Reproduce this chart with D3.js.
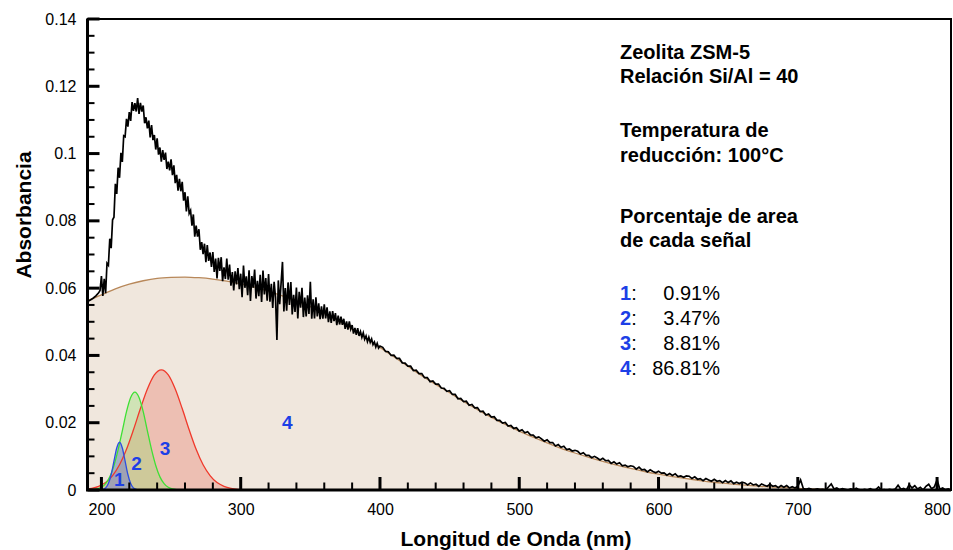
<!DOCTYPE html>
<html><head><meta charset="utf-8">
<script src="https://cdn.jsdelivr.net/npm/d3@7"></script>
<style>
html,body{margin:0;padding:0;background:#fff;}
svg{display:block;font-family:"Liberation Sans",Arial,Helvetica,sans-serif;}
</style></head><body>
<svg id="chart" width="953" height="550"></svg>
<script>
// ---------------- DATA ----------------
// Measured UV-Vis spectrum (wavelength nm -> absorbance)
const spectrumNm = [190,192,194,196,198,199].concat(d3.range(200, 401, 1), d3.range(402, 811, 2));
const spectrumAbs = [
0.0560,0.0565,0.0570,0.0577,0.0586,0.0593,
0.0636,0.0577,0.0628,0.0585,0.0674,0.0668,0.0747,0.0719,0.0803,0.0811,
0.0910,0.0880,0.0958,0.0928,0.1002,0.0975,0.1053,0.1050,0.1103,0.1080,
0.1123,0.1097,0.1153,0.1127,0.1150,0.1125,0.1165,0.1118,0.1151,0.1125,
0.1143,0.1090,0.1108,0.1075,0.1098,0.1048,0.1085,0.1040,0.1055,0.1012,
0.1045,0.0997,0.1018,0.0976,0.1010,0.0981,0.1003,0.0954,0.0976,0.0950,
0.0983,0.0936,0.0965,0.0912,0.0937,0.0890,0.0925,0.0888,0.0916,0.0860,
0.0885,0.0828,0.0873,0.0822,0.0831,0.0786,0.0819,0.0753,0.0786,0.0753,
0.0775,0.0714,0.0737,0.0701,0.0732,0.0677,0.0728,0.0681,0.0706,0.0663,
0.0707,0.0648,0.0688,0.0629,0.0690,0.0651,0.0692,0.0621,0.0662,0.0627,
0.0688,0.0625,0.0670,0.0607,0.0648,0.0593,0.0650,0.0611,0.0660,0.0597,
0.0643,0.0573,0.0667,0.0601,0.0635,0.0579,0.0653,0.0562,0.0636,0.0601,
0.0655,0.0569,0.0622,0.0576,0.0640,0.0559,0.0652,0.0581,0.0630,0.0563,
0.0642,0.0560,0.0613,0.0541,0.0619,0.0572,0.0446,0.0623,0.0552,0.0615,
0.0678,0.0531,0.0600,0.0533,0.0617,0.0550,0.0618,0.0522,0.0580,0.0529,
0.0602,0.0510,0.0589,0.0542,0.0601,0.0514,0.0572,0.0516,0.0579,0.0523,
0.0619,0.0509,0.0567,0.0510,0.0573,0.0516,0.0555,0.0508,0.0546,0.0509,
0.0552,0.0510,0.0543,0.0499,0.0531,0.0497,0.0532,0.0502,0.0526,0.0490,
0.0518,0.0492,0.0515,0.0491,0.0509,0.0479,0.0501,0.0477,0.0501,0.0478,
0.0490,0.0465,0.0482,0.0461,0.0481,0.0458,0.0471,0.0454,0.0467,0.0448,
0.0458,0.0441,0.0454,0.0439,0.0449,0.0432,0.0440,0.0425,0.0436,0.0422,
0.0428,
0.0424,0.0412,0.0411,0.0400,0.0401,0.0391,0.0391,0.0378,0.0377,0.0368,
0.0368,0.0355,0.0356,0.0346,0.0346,0.0334,0.0334,0.0322,0.0324,0.0315,
0.0315,0.0303,0.0302,0.0293,0.0295,0.0284,0.0284,0.0271,0.0272,0.0263,
0.0264,0.0252,0.0254,0.0244,0.0245,0.0233,0.0234,0.0223,0.0226,0.0217,
0.0218,0.0207,0.0207,0.0199,0.0201,0.0190,0.0192,0.0183,0.0185,0.0175,
0.0179,0.0170,0.0173,0.0164,0.0163,0.0155,0.0158,0.0152,0.0145,0.0149,
0.0141,0.0141,0.0131,0.0135,0.0127,0.0130,0.0120,0.0122,0.0116,0.0118,
0.0115,0.0107,0.0111,0.0103,0.0103,0.0096,0.0100,0.0095,0.0089,0.0094,
0.0087,0.0088,0.0079,0.0084,0.0077,0.0081,0.0072,0.0074,0.0069,0.0072,
0.0070,0.0062,0.0068,0.0060,0.0061,0.0054,0.0060,0.0055,0.0051,0.0056,
0.0050,0.0051,0.0044,0.0049,0.0043,0.0048,0.0040,0.0042,0.0038,0.0042,
0.0041,0.0034,0.0039,0.0032,0.0034,0.0028,0.0034,0.0030,0.0026,0.0032,
0.0026,0.0028,0.0022,0.0028,0.0022,0.0027,0.0019,0.0023,0.0019,0.0023,
0.0021,0.0015,0.0021,0.0015,0.0017,0.0011,0.0018,0.0014,0.0011,0.0017,
0.0011,0.0013,0.0007,0.0013,0.0008,0.0013,0.0006,0.0010,0.0006,0.0011,
0.0030,0.0004,0.0002,0.0005,0.0002,0.0001,0.0003,0.0001,0.0002,0.0000,
0.0009,0.0018,0.0003,0.0006,0.0001,0.0004,0.0002,0.0000,0.0003,0.0001,
0.0005,0.0001,0.0000,0.0002,0.0000,0.0004,0.0000,0.0001,0.0009,0.0000,
0.0001,0.0000,0.0002,0.0000,0.0003,0.0014,0.0002,0.0005,0.0000,0.0016,
0.0006,0.0013,0.0003,0.0008,0.0000,0.0011,0.0017,0.0004,0.0009,0.0030,
0.0002,0.0006,0.0001,0.0003,0.0000
];

// Fitted band 1 (blue)
const band1Nm  = [199,201,203,205,207,209,211,213,215,217,219,221,223,225,227];
const band1Abs = [0.0000,0.0002,0.0006,0.0019,0.0046,0.0086,0.0125,0.0142,0.0125,0.0086,0.0046,0.0019,0.0006,0.0002,0.0000];
// Fitted band 2 (green)
const band2Nm  = [194,197,200,203,206,209,212,215,218,221,224,227,230,233,236,239,242,245,248,251,254];
const band2Abs = [0.0001,0.0003,0.0008,0.0019,0.0039,0.0073,0.0120,0.0176,0.0233,0.0275,0.0291,0.0275,0.0233,0.0176,0.0120,0.0073,0.0039,0.0019,0.0008,0.0003,0.0001];
// Fitted band 3 (red)
const band3Nm  = [188,193,198,203,208,213,218,223,228,233,238,243,248,253,258,263,268,273,278,283,288,293,298,303];
const band3Abs = [0.0003,0.0005,0.0011,0.0022,0.0043,0.0075,0.0121,0.0179,0.0242,0.0300,0.0342,0.0357,0.0342,0.0300,0.0242,0.0179,0.0121,0.0075,0.0043,0.0022,0.0011,0.0005,0.0002,0.0001];
// Fitted band 4 (brown, broad)
const band4Nm  = d3.range(190, 811, 10);
const band4Abs = [0.0563,0.0580,0.0598,0.0612,0.0622,0.0629,0.0632,0.0633,0.0631,0.0627,
0.0621,0.0613,0.0603,0.0591,0.0577,0.0562,0.0545,0.0525,0.0503,0.0478,
0.0452,0.0424,0.0396,0.0368,0.0340,0.0314,0.0289,0.0263,0.0239,0.0216,
0.0195,0.0175,0.0157,0.0140,0.0124,0.0110,0.0097,0.0085,0.0074,0.0064,
0.0055,0.0047,0.0040,0.0034,0.0028,0.0023,0.0019,0.0015,0.0012,0.0009,
0.0007,0.0005,0.0003,0.0002,0.0001,0.0001,0,0,0,0,0,0,0];

// Band label anchors (wavelength, absorbance)
const bandLabels = ["1","2","3","4"];
const bandLabelNm = [212.9, 225.3, 245.7, 333.5];
const bandLabelAbs = [0.0032, 0.0079, 0.0124, 0.0203];

// Info text
const infoLines = ["Zeolita ZSM-5","Relación Si/Al = 40","Temperatura de","reducción: 100°C","Porcentaje de area","de cada señal"];
const areaKeys = ["1","2","3","4"];
const areaPercent = ["0.91%","3.47%","8.81%","86.81%"];

// Axes
const xTickValues = [200,300,400,500,600,700,800];
const xTickLabels = ["200","300","400","500","600","700","800"];
const xMinorValues = [220,240,260,280,320,340,360,380,420,440,460,480,520,540,560,580,620,640,660,680,720,740,760,780];
const yTickValues = [0,0.02,0.04,0.06,0.08,0.1,0.12,0.14];
const yTickLabels = ["0","0.02","0.04","0.06","0.08","0.1","0.12","0.14"];
const yMinorValues = [0.005,0.01,0.015,0.025,0.03,0.035,0.045,0.05,0.055,0.065,0.07,0.075,0.085,0.09,0.095,0.105,0.11,0.115,0.125,0.13,0.135];
const xTitle = "Longitud de Onda (nm)";
const yTitle = "Absorbancia";

// ---------------- DRAW ----------------
const svg = d3.select("#chart");
const L = 87.5, R = 951, T = 19, B = 490;
const x = d3.scaleLinear().domain([190, 810]).range([L, R]);
const y = d3.scaleLinear().domain([0, 0.14]).range([B, T]);

svg.append("defs").append("clipPath").attr("id","plotclip")
  .append("rect").attr("x",L).attr("y",T).attr("width",R-L).attr("height",B-T);

const plot = svg.append("g").attr("clip-path","url(#plotclip)");

const zip = (a,b) => a.map((v,i)=>[v,b[i]]);
const area = d3.area().x(d=>x(d[0])).y0(y(0)).y1(d=>y(d[1])).curve(d3.curveMonotoneX);
const line = d3.line().x(d=>x(d[0])).y(d=>y(d[1])).curve(d3.curveMonotoneX);

const bands = [
  {nm: band4Nm, abs: band4Abs, fill: "#f0e7dd", stroke: "#b8885a"},
  {nm: band3Nm, abs: band3Abs, fill: "rgba(232,110,95,0.33)", stroke: "#f0392b"},
  {nm: band2Nm, abs: band2Abs, fill: "rgba(150,222,110,0.35)", stroke: "#3ee034"},
  {nm: band1Nm, abs: band1Abs, fill: "rgba(86,100,220,0.38)", stroke: "#2c4ee0"}
];
bands.forEach(b => {
  plot.append("path").datum(zip(b.nm,b.abs)).attr("d", area).attr("fill", b.fill).attr("stroke","none");
});
bands.forEach(b => {
  plot.append("path").datum(zip(b.nm,b.abs)).attr("d", line).attr("fill","none")
    .attr("stroke", b.stroke).attr("stroke-width", 1.3);
});

plot.append("path").datum(zip(spectrumNm, spectrumAbs))
  .attr("d", d3.line().x(d=>x(d[0])).y(d=>y(d[1])))
  .attr("fill","none").attr("stroke","#000").attr("stroke-width",1.7).attr("stroke-linejoin","miter");

// band labels
svg.append("g").selectAll("text").data(bandLabels).join("text")
  .attr("x",(d,i)=>x(bandLabelNm[i])).attr("y",(d,i)=>y(bandLabelAbs[i]))
  .attr("dy","0.36em").attr("text-anchor","middle")
  .attr("font-size",19).attr("font-weight","bold").attr("fill","#1d3fe6").text(d=>d);

// axes: labels through d3 axes
const fontSize = 16;
const xAxis = svg.append("g").attr("transform",`translate(0,${B})`)
  .call(d3.axisBottom(x).tickValues(xTickValues).tickFormat((d,i)=>xTickLabels[i]).tickSize(0).tickPadding(14));
const yAxis = svg.append("g").attr("transform",`translate(${L},0)`)
  .call(d3.axisLeft(y).tickValues(yTickValues).tickFormat((d,i)=>yTickLabels[i]).tickSize(0).tickPadding(11));
[xAxis,yAxis].forEach(g=>{
  g.select(".domain").remove();
  g.selectAll(".tick text").attr("font-size",fontSize).attr("fill","#000")
    .attr("font-family",'"Liberation Sans",Arial,Helvetica,sans-serif');
});

// frame
svg.append("rect").attr("x",L).attr("y",T).attr("width",R-L).attr("height",B-T)
  .attr("fill","none").attr("stroke","#000").attr("stroke-width",2);
svg.append("path").attr("d",`M${L},${T}V${B}H${R}`).attr("fill","none").attr("stroke","#000").attr("stroke-width",3);

// axis titles
svg.append("text").attr("x",516).attr("y",546).attr("text-anchor","middle")
  .attr("font-size",21).attr("font-weight","bold").text(xTitle);
svg.append("text").attr("transform","translate(31,215) rotate(-90)").attr("text-anchor","middle")
  .attr("font-size",21).attr("font-weight","bold").text(yTitle);

// info block
const infoY = [59, 82.5, 137, 161.5, 223, 247];
svg.append("g").selectAll("text").data(infoLines).join("text")
  .attr("x",620).attr("y",(d,i)=>infoY[i]).attr("font-size",20).attr("font-weight","bold").text(d=>d);

const listY = [299.5, 325, 350, 375];
const list = svg.append("g");
areaKeys.forEach((k,i)=>{
  const t = list.append("text").attr("x",620).attr("y",listY[i]).attr("font-size",20);
  t.append("tspan").attr("font-weight","bold").attr("fill","#1d3fe6").text(k);
  t.append("tspan").attr("fill","#000").text(":");
  list.append("text").attr("x",720).attr("y",listY[i]).attr("text-anchor","end")
    .attr("font-size",20).attr("fill","#000").text(areaPercent[i]);
});

// inward tick marks, drawn last so nothing can cover them
const tickLayer = svg.append("g").attr("class","ticks");
tickLayer.selectAll("rect.xmaj").data(xTickValues).join("rect").attr("class","xmaj")
  .attr("x",d=>x(d)-1.5).attr("y",B-13).attr("width",3).attr("height",13).attr("fill","#000");
tickLayer.selectAll("rect.xmin").data(xMinorValues).join("rect").attr("class","xmin")
  .attr("x",d=>x(d)-1).attr("y",B-7.5).attr("width",2).attr("height",7.5).attr("fill","#000");
tickLayer.selectAll("rect.ymaj").data(yTickValues).join("rect").attr("class","ymaj")
  .attr("x",L).attr("y",d=>y(d)-1.5).attr("width",12).attr("height",3).attr("fill","#000");
tickLayer.selectAll("rect.ymin").data(yMinorValues).join("rect").attr("class","ymin")
  .attr("x",L).attr("y",d=>y(d)-1).attr("width",7).attr("height",2).attr("fill","#000");
</script></body></html>
